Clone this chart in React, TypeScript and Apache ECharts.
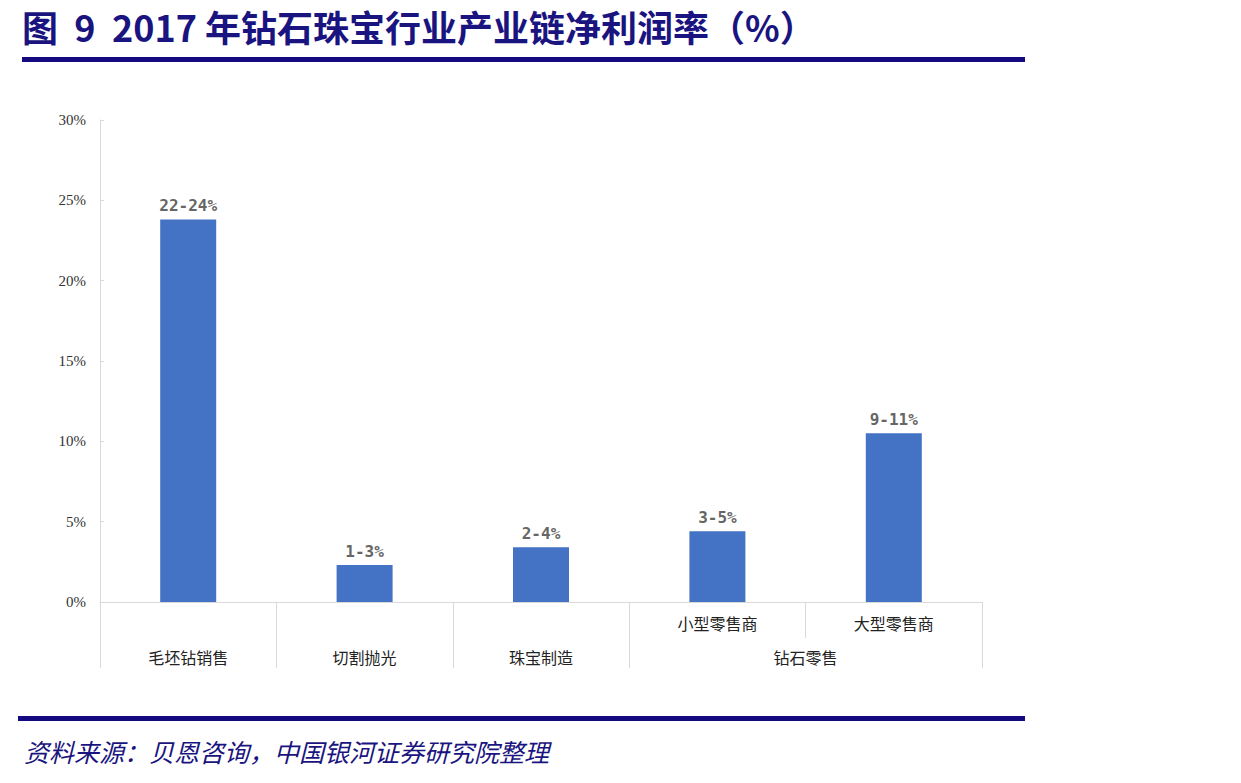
import React, { useEffect, useRef } from "react";
import * as echarts from "echarts";

const titleText = "图  9  2017 年钻石珠宝行业产业链净利润率（%）";
const sourceText = "资料来源：贝恩咨询，中国银河证券研究院整理";
const categories = ["毛坯钻销售", "切割抛光", "珠宝制造", "小型零售商", "大型零售商"];
const values = [23.8, 2.3, 3.4, 4.4, 10.5];
const rangeLabels = ["22-24%", "1-3%", "2-4%", "3-5%", "9-11%"];
const subLevelShown = [false, false, false, true, true];
const groups = [
  { name: "毛坯钻销售", from: 0, to: 0 },
  { name: "切割抛光", from: 1, to: 1 },
  { name: "珠宝制造", from: 2, to: 2 },
  { name: "钻石零售", from: 3, to: 4 },
];
const yTicks = { min: 0, max: 30, interval: 5 };

const NAVY = "#1a1480";
const RULE = "#14097f";
const GRID_LINE = "#d9d9d9";
const CJK = "'Noto Sans CJK SC', sans-serif";

export default function App() {
  const ref = useRef<HTMLDivElement>(null);
  useEffect(() => {
    if (!ref.current) return;
    const chart = echarts.init(ref.current, undefined, { renderer: "svg" });
    const staticGraphics: any[] = [
      {
        type: "text",
        left: 22,
        top: 8,
        style: { text: titleText, fontSize: 36, fontWeight: "bold", fontFamily: CJK, fill: NAVY },
      },
      { type: "rect", shape: { x: 22, y: 57, width: 1003, height: 5 }, style: { fill: RULE } },
      { type: "rect", shape: { x: 18, y: 716, width: 1007, height: 5 }, style: { fill: RULE } },
      {
        type: "text",
        left: 24,
        top: 738,
        style: { text: sourceText, fontSize: 25, fontStyle: "italic", fontFamily: CJK, fill: NAVY },
      },
    ];
    chart.setOption({
      animation: false,
      backgroundColor: "#ffffff",
      grid: { left: 100, right: 259, top: 120, bottom: 181 },
      xAxis: {
        type: "category",
        data: categories,
        boundaryGap: true,
        axisLine: { show: true, lineStyle: { color: GRID_LINE, width: 1 } },
        axisTick: { show: true, length: 36, lineStyle: { color: GRID_LINE } },
        axisLabel: {
          interval: 0,
          margin: 13,
          fontSize: 16,
          fontFamily: CJK,
          color: "#222",
          formatter: (v: string, i: number) => (subLevelShown[i] ? v : ""),
        },
      },
      yAxis: {
        type: "value",
        min: yTicks.min,
        max: yTicks.max,
        interval: yTicks.interval,
        axisLine: { show: true, lineStyle: { color: GRID_LINE } },
        axisTick: { show: true, inside: true, length: 4, lineStyle: { color: GRID_LINE } },
        splitLine: { show: false },
        axisLabel: {
          margin: 14,
          fontSize: 15,
          fontFamily: "'Liberation Serif', serif",
          color: "#333",
          formatter: "{value}%",
        },
      },
      series: [
        {
          type: "bar",
          data: values,
          barWidth: 56,
          itemStyle: { color: "#4472c4" },
          label: {
            show: true,
            position: "top",
            distance: 6,
            fontSize: 16,
            fontWeight: "bold",
            fontFamily: "'DejaVu Sans Mono', monospace",
            color: "#666666",
            formatter: (p: any) => rangeLabels[p.dataIndex],
          },
        },
      ],
      graphic: staticGraphics,
    });

    const xs = categories.map((_, i) => chart.convertToPixel({ xAxisIndex: 0 }, i) as number);
    const band = categories.length > 1 ? xs[1] - xs[0] : 100;
    const bound = (k: number) => xs[0] - band / 2 + k * band;
    const y0 = chart.convertToPixel({ yAxisIndex: 0 }, 0) as number;
    const extra: any[] = [];
    const groupBoundaries = new Set<number>();
    groups.forEach((g) => {
      groupBoundaries.add(g.from);
      groupBoundaries.add(g.to + 1);
    });
    groupBoundaries.forEach((k) => {
      const x = Math.round(bound(k)) + 0.5;
      extra.push({
        type: "line",
        shape: { x1: x, y1: y0, x2: x, y2: y0 + 66 },
        style: { stroke: GRID_LINE, lineWidth: 1 },
      });
    });
    groups.forEach((g) => {
      extra.push({
        type: "text",
        x: (bound(g.from) + bound(g.to + 1)) / 2,
        y: y0 + 55,
        style: {
          text: g.name,
          fontSize: 16,
          fontFamily: CJK,
          fill: "#222",
          align: "center",
          verticalAlign: "middle",
        },
      });
    });
    chart.setOption({ graphic: [...staticGraphics, ...extra] });

    return () => chart.dispose();
  }, []);
  return (
    <div
      ref={ref}
      style={{ position: "absolute", left: 0, top: 0, width: 1241, height: 783 }}
    />
  );
}
